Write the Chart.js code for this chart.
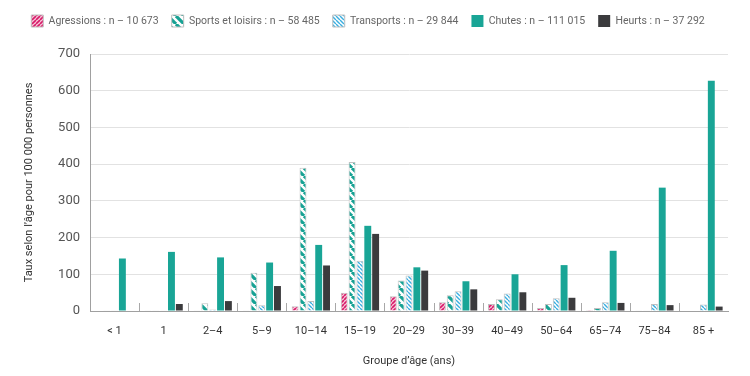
<!DOCTYPE html>
<html lang="fr">
<head>
<meta charset="UTF-8">
<title>Taux selon l'âge</title>
<script src="https://cdn.jsdelivr.net/npm/chart.js"></script>
<style>
  body { margin: 0; background: #fff; }
  #wrap { width: 750px; height: 376px; }
</style>
</head>
<body>
<div id="wrap"><canvas id="chart"></canvas></div>
<script>
// Données (taux pour 100 000)
const groupes = ['< 1', '1', '2–4', '5–9', '10–14', '15–19', '20–29', '30–39', '40–49', '50–64', '65–74', '75–84', '85 +'];
const agressions  = [0, 1, 1, 2, 13, 50, 40, 24, 19, 8, 3, 2, 0];
const sports      = [1, 1, 21, 104, 390, 406, 83, 43, 32, 19, 8, 2, 0];
const transports  = [1, 1, 4, 16, 27, 137, 97, 54, 48, 35, 24, 19, 18];
const chutes      = [143, 161, 146, 132, 180, 232, 119, 81, 100, 125, 164, 336, 627];
const heurts      = [0, 19, 27, 68, 124, 210, 110, 59, 51, 36, 22, 16, 12];
const libelles = [
  'Agressions : n – 10 673',
  'Sports et loisirs : n – 58 485',
  'Transports : n – 29 844',
  'Chutes : n – 111 015',
  'Heurts : n – 37 292'
];

// motifs hachurés
function motif(size, bg, color, lw, dir) {
  const c = document.createElement('canvas');
  c.width = size; c.height = size;
  const g = c.getContext('2d');
  g.fillStyle = bg;
  g.fillRect(0, 0, size, size);
  g.strokeStyle = color;
  g.lineWidth = lw;
  g.beginPath();
  for (let k = -1; k <= 1; k++) {
    if (dir === '/') {
      g.moveTo(k * size, size); g.lineTo(k * size + size, 0);
    } else {
      g.moveTo(k * size, 0); g.lineTo(k * size + size, size);
    }
  }
  g.stroke();
  return g.createPattern(c, 'repeat');
}
const ctx = document.getElementById('chart').getContext('2d');
const pAgr = motif(4, '#f7c6d9', '#d81b6a', 1.6, '/');
const pSpo = motif(8, '#ffffff', '#17a294', 3.2, '\\');
const pTra = motif(4, '#ffffff', '#3aaee0', 1.4, '\\');

// petits traits verticaux entre les groupes
const traits = {
  id: 'traits',
  afterDraw(chart) {
    const x = chart.scales.x, a = chart.chartArea, g = chart.ctx;
    const pas = x.getPixelForValue(1) - x.getPixelForValue(0);
    g.save();
    g.strokeStyle = '#a8a8a8';
    g.lineWidth = 1;
    g.beginPath();
    for (let i = 1; i < groupes.length; i++) {
      const px = Math.round(x.getPixelForValue(i) - pas / 2) + 0.5;
      g.moveTo(px, a.bottom);
      g.lineTo(px, a.bottom - 8);
    }
    g.stroke();
    g.restore();
  }
};

// espace sous la légende
const margeLegende = {
  id: 'margeLegende',
  beforeInit(chart) {
    const fit = chart.legend.fit;
    chart.legend.fit = function () {
      fit.bind(chart.legend)();
      this.height += 17;
    };
  }
};

Chart.defaults.font.family = 'Roboto, sans-serif';
Chart.defaults.color = '#555';

new Chart(ctx, {
  type: 'bar',
  data: {
    labels: groupes,
    datasets: [
      { label: libelles[0], data: agressions, backgroundColor: pAgr, borderColor: '#c0c0c0', borderWidth: 1 },
      { label: libelles[1], data: sports, backgroundColor: pSpo, borderColor: '#c0c0c0', borderWidth: 1 },
      { label: libelles[2], data: transports, backgroundColor: pTra, borderColor: '#c0c0c0', borderWidth: 1 },
      { label: libelles[3], data: chutes, backgroundColor: '#19a596', borderWidth: 0 },
      { label: libelles[4], data: heurts, backgroundColor: '#3b3b3d', borderWidth: 0 }
    ]
  },
  options: {
    responsive: true,
    maintainAspectRatio: false,
    animation: false,
    layout: { padding: { left: 8, right: 22, top: 2, bottom: 4 } },
    datasets: { bar: { categoryPercentage: 0.8, barPercentage: 0.88 } },
    plugins: {
      legend: {
        position: 'top',
        labels: {
          boxWidth: 12, boxHeight: 12, padding: 13,
          color: '#666', font: { size: 10.5 }
        }
      },
      tooltip: { enabled: false }
    },
    scales: {
      x: {
        grid: { display: false, drawTicks: false },
        border: { color: '#a0a0a0' },
        ticks: { color: '#333', font: { size: 11 }, padding: 14, maxRotation: 0 },
        title: { display: true, text: 'Groupe d’âge (ans)', color: '#333', font: { size: 11 }, padding: { top: 14 } },
        afterFit(s) { s.height = 61; }
      },
      y: {
        min: 0, max: 700,
        ticks: { stepSize: 100, color: '#555', font: { size: 13 }, padding: 10 },
        grid: { color: '#e2e2e2', drawTicks: false },
        border: { color: '#a0a0a0' },
        title: { display: true, text: 'Taux selon l’âge pour 100 000 personnes', color: '#333', font: { size: 11 }, padding: { top: 15, bottom: 4 } },
        afterFit(s) { s.width = 82; }
      }
    }
  },
  plugins: [traits, margeLegende]
});
</script>
</body>
</html>
